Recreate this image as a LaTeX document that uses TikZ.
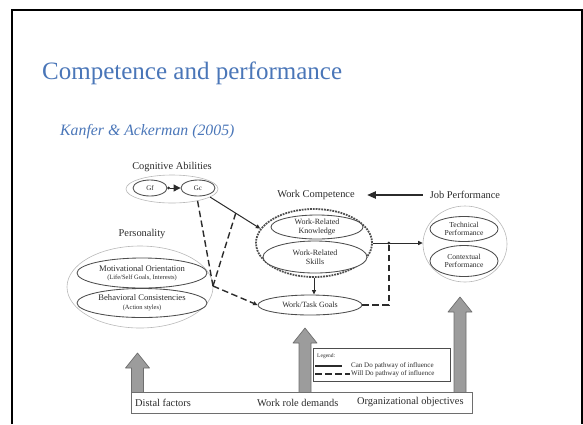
\documentclass[tikz,border=0pt]{standalone}
\usepackage{fontspec}
\setmainfont{Liberation Serif}
\usetikzlibrary{arrows.meta,positioning,calc,shapes.geometric}
\definecolor{SlideBlue}{HTML}{4A76B8}
\definecolor{ScanInk}{HTML}{2B2B2B}
\definecolor{ScanLine}{HTML}{4D4D4D}
\definecolor{ScanPale}{HTML}{B8B8B8}
\definecolor{ArrowFill}{HTML}{9C9C9C}
\definecolor{ArrowEdge}{HTML}{6E6E6E}

\begin{document}
\begin{tikzpicture}[x=1pt,y=-1pt]
  \path[use as bounding box] (0,0) rectangle (583,424);

  \tikzset{
    kaHead/.style={
      font=\fontsize{10.4}{12}\selectfont,
      text=ScanInk,
      inner sep=0pt
    },
    kaOuter/.style={
      ellipse,
      draw=ScanPale,
      line width=.6pt,
      inner sep=0pt
    },
    kaInner/.style={
      ellipse,
      draw=ScanLine,
      line width=.85pt,
      fill=white,
      inner sep=0pt,
      align=center,
      font=\fontsize{8}{8.6}\selectfont,
      text=ScanInk
    },
    kaCanDo/.style={
      -{Triangle[length=4.5pt,width=4pt]},
      draw=ScanInk,
      line width=1pt
    },
    kaWillDo/.style={
      draw=ScanInk,
      line width=1.4pt,
      dash pattern=on 6.5pt off 3.5pt
    },
    kaUp/.style={
      draw=ArrowEdge,
      fill=ArrowFill,
      line width=.7pt,
      line join=round
    }
  }

  % slide frame and heading
  \draw[line width=1.5pt] (12,424) -- (12,10) -- (582,10) -- (582,424);
  \node[anchor=base west, inner sep=0pt, text=SlideBlue,
    font=\fontsize{25}{30}\selectfont] (title) at (42,79)
    {Competence and performance};
  \node[anchor=west, inner sep=0pt, text=SlideBlue,
    font=\itshape\fontsize{15.8}{18}\selectfont] (cite) at (60,132)
    {Kanfer \& Ackerman (2005)};

  % cognitive abilities
  \node[kaOuter, minimum width=92pt, minimum height=28pt] (cogAb) at (172,189) {};
  \node[kaHead] (cogLabel) at (172,167) {Cognitive Abilities};
  \node[kaInner, minimum width=34pt, minimum height=16pt,
    font=\fontsize{7}{8}\selectfont] (gf) at (150,188) {Gf};
  \node[kaInner, minimum width=34pt, minimum height=16pt,
    font=\fontsize{7}{8}\selectfont] (gc) at (198,188) {Gc};
  \draw[{Circle[length=2.6pt]}-{Triangle[length=7pt,width=7pt]},
    draw=ScanInk, fill=ScanInk, line width=1pt] (gf) -- (gc);

  % personality
  \node[kaOuter, minimum width=146pt, minimum height=82pt] (persAll) at (140,287) {};
  \node[kaHead] (persLabel) at (142,234) {Personality};
  \node[kaInner, minimum width=130pt, minimum height=30pt,
    font=\fontsize{8.6}{8.6}\selectfont] (motiv) at (142,273)
    {Motivational Orientation\\{\fontsize{6.5}{7}\selectfont (Life/Self Goals, Interests)}};
  \node[kaInner, minimum width=130pt, minimum height=29pt,
    font=\fontsize{8.6}{8.6}\selectfont] (behav) at (142,303)
    {Behavioral Consistencies\\{\fontsize{6.5}{7}\selectfont (Action styles)}};

  % work competence
  \node[kaHead] (wcLabel) at (316,195) {Work Competence};
  \node[ellipse, draw=ScanLine, line width=1.8pt, densely dotted,
    minimum width=116pt, minimum height=68pt] (wc) at (314,243) {};
  \node[kaInner, minimum width=92pt, minimum height=24pt] (know) at (317,227)
    {Work-Related\\Knowledge};
  \node[kaInner, minimum width=104pt, minimum height=32pt] (skill) at (315,257)
    {Work-Related\\Skills};
  \node[kaInner, minimum width=104pt, minimum height=20pt] (goals) at (310,305)
    {Work/Task Goals};

  % job performance
  \node[kaHead] (jpLabel) at (465,195) {Job Performance};
  \node[kaOuter, minimum width=84pt, minimum height=76pt] (jp) at (465,244) {};
  \node[kaInner, minimum width=68pt, minimum height=25pt,
    font=\fontsize{7.6}{8.2}\selectfont] (tech) at (464,229) {Technical\\Performance};
  \node[kaInner, minimum width=68pt, minimum height=31pt,
    font=\fontsize{7.6}{8.2}\selectfont] (ctx) at (464,261) {Contextual\\Performance};

  % pathways
  \draw[-{Triangle[length=9pt,width=7pt]}, draw=ScanInk, fill=ScanInk, line width=2.2pt]
    ([xshift=-7pt]jpLabel.west) -- ([xshift=12pt]wcLabel.east);
  \draw[kaCanDo] (cogAb.-12) -- coordinate[pos=.51] (gcTick) (wc.165);
  \coordinate (vJoin) at (213,286);
  \draw[kaWillDo] (cogAb.-25) -- (vJoin);
  \draw[kaWillDo] (gcTick) -- (vJoin);
  \draw[kaWillDo, -{Triangle[length=4.5pt,width=4pt]}] (vJoin) -- (goals.west);
  \draw[kaCanDo] (wc.south) -- (wc.south |- goals.north);
  \draw[kaCanDo] (wc.east) -- (wc.east -| jp.west);
  \coordinate (gJoin) at ($(wc.east)!.32!(wc.east -| jp.west)$);
  \draw[kaWillDo] (goals.east) -| (gJoin);
  \fill[ScanInk] (gJoin) circle (1.6pt);

  % broad influences
  \foreach \ax/\tip in {137.5/353, 305/328, 460/297}{
    \draw[kaUp] ({\ax-6},393) -- ({\ax-6},{\tip+15}) -- ({\ax-12},{\tip+15})
      -- (\ax,\tip) -- ({\ax+12},{\tip+15}) -- ({\ax+6},{\tip+15}) -- ({\ax+6},393);
  }
  \node[draw=ArrowEdge, line width=.9pt, fill=white, inner sep=0pt,
    minimum width=341pt, minimum height=21pt] (base) at (301.5,402.5) {};
  \node[kaHead, anchor=west] (distal) at (135,402.5) {Distal factors};
  \node[kaHead, anchor=west] (roleDem) at (257,402.5) {Work role demands};
  \node[kaHead, anchor=west] (orgObj) at (357,402.5) {Organizational objectives};

  % legend
  \node[draw=ScanLine, line width=.7pt, fill=white, inner sep=0pt,
    minimum width=137pt, minimum height=33pt] (legend) at (381.5,364.5) {};
  \node[anchor=west, inner sep=0pt, text=ScanInk,
    font=\fontsize{5.5}{6}\selectfont] (legTitle) at (317,356) {Legend:};
  \draw[ScanInk, line width=1.3pt] (315,366) -- (342,366);
  \node[anchor=west, inner sep=0pt, text=ScanInk,
    font=\fontsize{7}{8}\selectfont] (legCan) at (351,366) {Can Do pathway of influence};
  \draw[kaWillDo] (315,374) -- (350,374);
  \node[anchor=west, inner sep=0pt, text=ScanInk,
    font=\fontsize{7}{8}\selectfont] (legWill) at (351,374) {Will Do pathway of influence};
\end{tikzpicture}
\end{document}
